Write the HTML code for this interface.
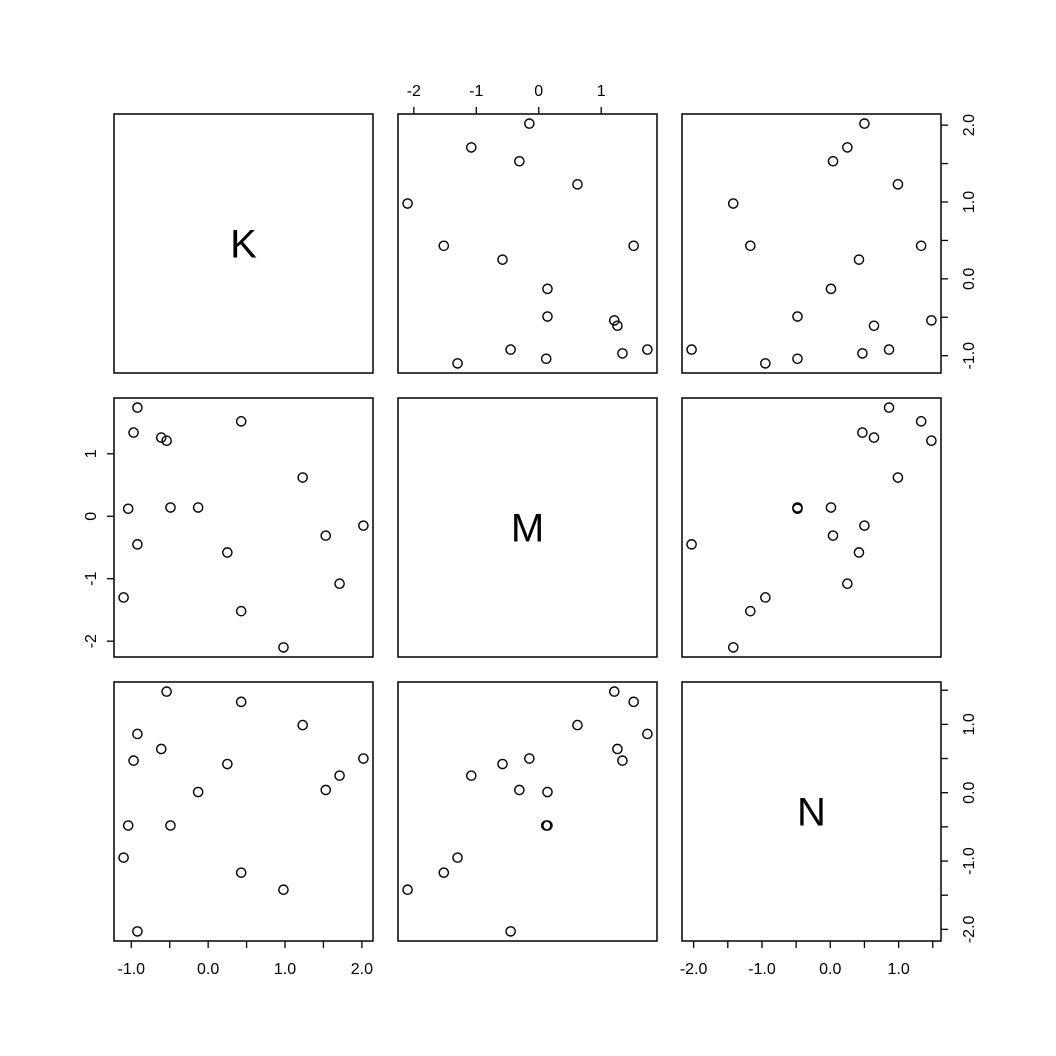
<!DOCTYPE html>
<html><head><meta charset="utf-8"><style>
html,body{margin:0;padding:0;background:#fff}
svg{display:block;font-family:"Liberation Sans",Arial,sans-serif}
</style></head><body>
<svg id="chart" width="1056" height="1056" viewBox="0 0 1056 1056"></svg>
<script>
const varNames = ["K","M","N"];
const kValues = [2.02,1.71,1.53,1.23,0.98,0.43,0.43,0.25,-0.13,-0.49,-0.54,-0.61,-0.92,-0.92,-0.97,-1.04,-1.10];
const mValues = [-0.15,-1.08,-0.31,0.62,-2.10,-1.52,1.52,-0.58,0.14,0.14,1.21,1.26,-0.45,1.74,1.34,0.12,-1.30];
const nValues = [0.50,0.25,0.04,0.99,-1.42,-1.17,1.33,0.42,0.01,-0.48,1.48,0.64,-2.03,0.86,0.47,-0.48,-0.95];
const kTicks = [-1,-0.5,0,0.5,1,1.5,2];
const kTickLabels = ["-1.0","","0.0","","1.0","","2.0"];
const mTicks = [-2,-1,0,1];
const mTickLabels = ["-2","-1","0","1"];
const nTicks = [-2,-1.5,-1,-0.5,0,0.5,1,1.5];
const nTickLabels = ["-2.0","","-1.0","","0.0","","1.0",""];

const data = [kValues, mValues, nValues];
const ticks = [kTicks, mTicks, nTicks];
const tickLabels = [kTickLabels, mTickLabels, nTickLabels];
const NS = "http://www.w3.org/2000/svg";
const svg = document.getElementById("chart");
const starts = [114, 398, 682];
const size = 259;

function mk(tag, attrs, parent){
  const e = document.createElementNS(NS, tag);
  for (const k in attrs) e.setAttribute(k, attrs[k]);
  (parent||svg).appendChild(e);
  return e;
}
const ranges = data.map(arr => {
  const mn = Math.min(...arr), mx = Math.max(...arr), p = (mx-mn)*0.04;
  return [mn-p, mx+p];
});
function sx(col, v){ const r = ranges[col]; return starts[col] + (v-r[0])/(r[1]-r[0])*size; }
function sy(row, v){ const r = ranges[row]; return starts[row] + size - (v-r[0])/(r[1]-r[0])*size; }

for (let row=0; row<3; row++){
  for (let col=0; col<3; col++){
    const g = mk("g", {});
    
    
    const r = mk("rect", {x:starts[col], y:starts[row], width:size, height:size, fill:"none", stroke:"#000", "stroke-width":1.5}, g);
    
    
    if (row === col){
      const t = mk("text", {x:starts[col]+size/2, y:starts[row]+size/2+14, "font-size":40, "text-anchor":"middle"}, g);
      t.textContent = varNames[row];
      
      
    } else {
      const xs = data[col], ys = data[row];
      for (let i=0;i<xs.length;i++){
        const c = mk("circle", {cx:sx(col, xs[i]), cy:sy(row, ys[i]), r:4.6, fill:"none", stroke:"#000", "stroke-width":1.4}, g);
        
        
      }
    }
  }
}
[[0,"bottom"],[1,"top"],[2,"bottom"]].forEach(([col,side])=>{
  const g = mk("g", {});
  
  
  const y0 = side==="bottom" ? 941 : 114;
  const d = side==="bottom" ? 7 : -7;
  const tv = ticks[col];
  tv.forEach((v,i)=>{
    const x = sx(col,v);
    mk("line",{x1:x,x2:x,y1:y0,y2:y0+d,stroke:"#000","stroke-width":1.3},g);
    if (tickLabels[col][i]){
      const t = mk("text",{x:x,y:side==="bottom"?974:96,"font-size":16,"text-anchor":"middle"},g);
      t.textContent = tickLabels[col][i];
      
      
    }
  });
});
[[0,"right"],[1,"left"],[2,"right"]].forEach(([row,side])=>{
  const g = mk("g", {});
  
  
  const x0 = side==="right" ? 941 : 114;
  const d = side==="right" ? 7 : -7;
  const tv = ticks[row];
  tv.forEach((v,i)=>{
    const y = sy(row,v);
    mk("line",{x1:x0,x2:x0+d,y1:y,y2:y,stroke:"#000","stroke-width":1.3},g);
    if (tickLabels[row][i]){
      const lx = side==="right" ? 974 : 96;
      const t = mk("text",{x:lx,y:y,"font-size":16,"text-anchor":"middle",transform:`rotate(-90 ${lx} ${y})`},g);
      t.textContent = tickLabels[row][i];
      
      
    }
  });
});
</script>
</body></html>
